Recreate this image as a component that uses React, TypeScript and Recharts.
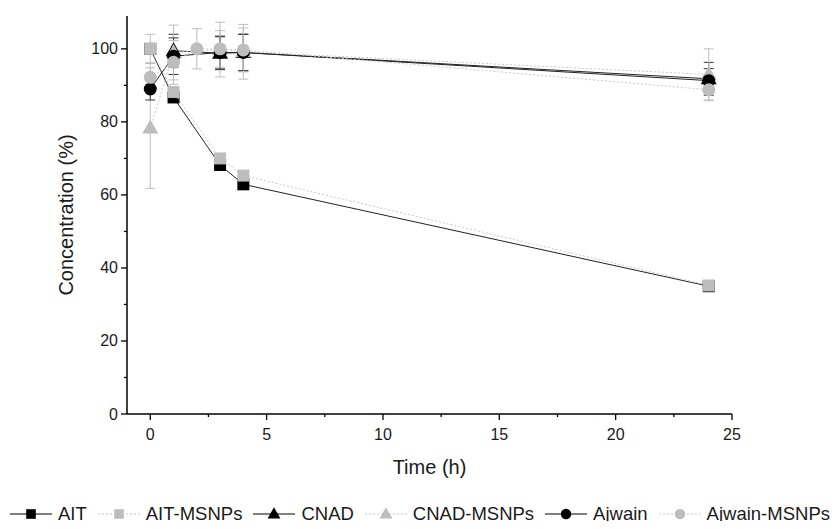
import { ScatterChart, Scatter, XAxis, YAxis, ErrorBar } from "recharts";

// time points (h), concentrations (%) and SD
const aitTime = [0, 1, 3, 4, 24];
const aitConc = [100, 86.7, 68.2, 62.9, 35.0];
const aitErr = [1.0, 1.0, 1.0, 1.2, 0.6];

const aitMsnpTime = [0, 1, 3, 4, 24];
const aitMsnpConc = [100, 88.2, 70.0, 65.3, 35.2];
const aitMsnpErr = [4.0, 1.2, 1.0, 1.0, 0.8];

const cnadTime = [1, 3, 4, 24];
const cnadConc = [99.5, 98.8, 99.0, 91.8];
const cnadErr = [4.5, 4.5, 5.0, 4.5];

const cnadMsnpTime = [0, 1, 3, 4, 24];
const cnadMsnpConc = [78.3, 99.0, 99.8, 99.2, 93.0];
const cnadMsnpErr = [16.5, 7.5, 7.5, 7.5, 7.0];

const ajwainTime = [0, 1, 3, 4, 24];
const ajwainConc = [89.0, 98.0, 99.0, 99.0, 91.3];
const ajwainErr = [3.0, 5.0, 4.5, 5.0, 3.3];

const ajwainMsnpTime = [0, 1, 2, 3, 4, 24];
const ajwainMsnpConc = [92.2, 96.3, 100.0, 100.0, 99.7, 88.8];
const ajwainMsnpErr = [4.0, 6.0, 5.5, 5.0, 6.0, 3.0];

const xTicks = [0, 2.5, 5, 7.5, 10, 12.5, 15, 17.5, 20, 22.5, 25];
const yTicks = [0, 10, 20, 30, 40, 50, 60, 70, 80, 90, 100];

const FONT = "'Liberation Sans', Arial, sans-serif";
const BLACK = "#000";
const GRAY = "#bdbdbd";
const GRAY_LINE = "#c8c8c8";
const TEXT = "#1a1a1a";

type Kind = "square" | "triangle" | "circle";

const zip = (t: number[], c: number[], e: number[]) =>
  t.map((x, i) => ({ x, y: c[i], err: e[i] }));

const series = [
  { name: "AIT", data: zip(aitTime, aitConc, aitErr), kind: "square" as Kind, gray: false },
  { name: "AIT-MSNPs", data: zip(aitMsnpTime, aitMsnpConc, aitMsnpErr), kind: "square" as Kind, gray: true },
  { name: "CNAD", data: zip(cnadTime, cnadConc, cnadErr), kind: "triangle" as Kind, gray: false },
  { name: "CNAD-MSNPs", data: zip(cnadMsnpTime, cnadMsnpConc, cnadMsnpErr), kind: "triangle" as Kind, gray: true },
  { name: "Ajwain", data: zip(ajwainTime, ajwainConc, ajwainErr), kind: "circle" as Kind, gray: false },
  { name: "Ajwain-MSNPs", data: zip(ajwainMsnpTime, ajwainMsnpConc, ajwainMsnpErr), kind: "circle" as Kind, gray: true },
];

function Marker({ kind, cx, cy, fill, s = 1 }: { kind: Kind; cx: number; cy: number; fill: string; s?: number }) {
  if (kind === "square") {
    const h = 6 * s;
    return <rect x={cx - h} y={cy - h} width={2 * h} height={2 * h} fill={fill} />;
  }
  if (kind === "triangle") {
    const pts = [
      [cx, cy - 8.5 * s],
      [cx - 8 * s, cy + 5.5 * s],
      [cx + 8 * s, cy + 5.5 * s],
    ];
    return <polygon points={pts.map((p) => p.join(",")).join(" ")} fill={fill} />;
  }
  return <circle cx={cx} cy={cy} r={6.5 * s} fill={fill} />;
}

function XTick({ x, y, payload }: any) {
  const major = payload.value % 5 === 0;
  return (
    <g>
      <line x1={x} x2={x} y1={y} y2={y + (major ? 6 : 3)} stroke={BLACK} strokeWidth={1.3} />
      {major && (
        <text x={x} y={y + 20} textAnchor="middle" dominantBaseline="central" fontSize={16} fill={TEXT} fontFamily={FONT}>
          {payload.value}
        </text>
      )}
    </g>
  );
}

function YTick({ x, y, payload }: any) {
  const major = payload.value % 20 === 0;
  return (
    <g>
      <line x1={x} x2={x - (major ? 6 : 3)} y1={y} y2={y} stroke={BLACK} strokeWidth={1.3} />
      {major && (
        <text x={x - 9} y={y} textAnchor="end" dominantBaseline="central" fontSize={16} fill={TEXT} fontFamily={FONT}>
          {payload.value}
        </text>
      )}
    </g>
  );
}

function LegendRow() {
  return (
    <div
      style={{
        position: "absolute",
        left: 2,
        top: 496,
        height: 20,
        display: "flex",
        alignItems: "center",
        fontFamily: FONT,
        fontSize: 18.5,
        lineHeight: "20px",
        color: TEXT,
        whiteSpace: "nowrap",
      }}
    >
      {series.map((s, i) => (
        <div key={s.name} style={{ display: "flex", alignItems: "center", marginLeft: i === 0 ? 0 : 11 }}>
          <svg width={42} height={18} style={{ display: "block" }}>
            <line
              x1={0}
              x2={42}
              y1={9}
              y2={9}
              stroke={s.gray ? GRAY_LINE : BLACK}
              strokeWidth={1}
              strokeDasharray={s.gray ? "2 2" : undefined}
            />
            <Marker kind={s.kind} cx={21} cy={9} fill={s.gray ? GRAY : BLACK} s={0.8} />
          </svg>
          <span style={{ marginLeft: 6 }}>{s.name}</span>
        </div>
      ))}
    </div>
  );
}

export default function App() {
  return (
    <div style={{ position: "relative", width: 823, height: 513, fontFamily: FONT, background: "#fff" }}>
      <ScatterChart width={823} height={470} margin={{ top: 8, right: 99, left: 0, bottom: 0 }}>
        <XAxis
          type="number"
          dataKey="x"
          domain={[-1, 25]}
          ticks={xTicks}
          interval={0}
          allowDataOverflow
          height={64}
          axisLine={{ stroke: BLACK, strokeWidth: 1.5 }}
          tickLine={false}
          tickSize={0}
          tickMargin={0}
          tick={<XTick />}
          label={{ value: "Time (h)", position: "insideBottom", offset: 4, fontSize: 20, fill: TEXT, fontFamily: FONT }}
        />
        <YAxis
          type="number"
          dataKey="y"
          domain={[0, 109]}
          ticks={yTicks}
          interval={0}
          allowDataOverflow
          width={119}
          axisLine={{ stroke: BLACK, strokeWidth: 1.5 }}
          tickLine={false}
          tickSize={0}
          tickMargin={0}
          tick={<YTick />}
          label={{ value: "Concentration (%)", angle: -90, position: "center", dx: -2, fontSize: 20, fill: TEXT, fontFamily: FONT }}
        />
        {series.map((s) => (
          <Scatter
            key={s.name}
            name={s.name}
            data={s.data}
            isAnimationActive={false}
            line={{
              stroke: s.gray ? GRAY_LINE : "#222",
              strokeWidth: 1,
              strokeDasharray: s.gray ? "2 2" : undefined,
            }}
            lineType="joint"
            shape={(p: any) => <Marker kind={s.kind} cx={p.cx} cy={p.cy} fill={s.gray ? GRAY : BLACK} />}
          >
            <ErrorBar
              dataKey="err"
              direction="y"
              width={5}
              stroke={s.gray ? GRAY : "#333"}
              strokeWidth={1}
              isAnimationActive={false}
            />
          </Scatter>
        ))}
      </ScatterChart>
      <LegendRow />
    </div>
  );
}
